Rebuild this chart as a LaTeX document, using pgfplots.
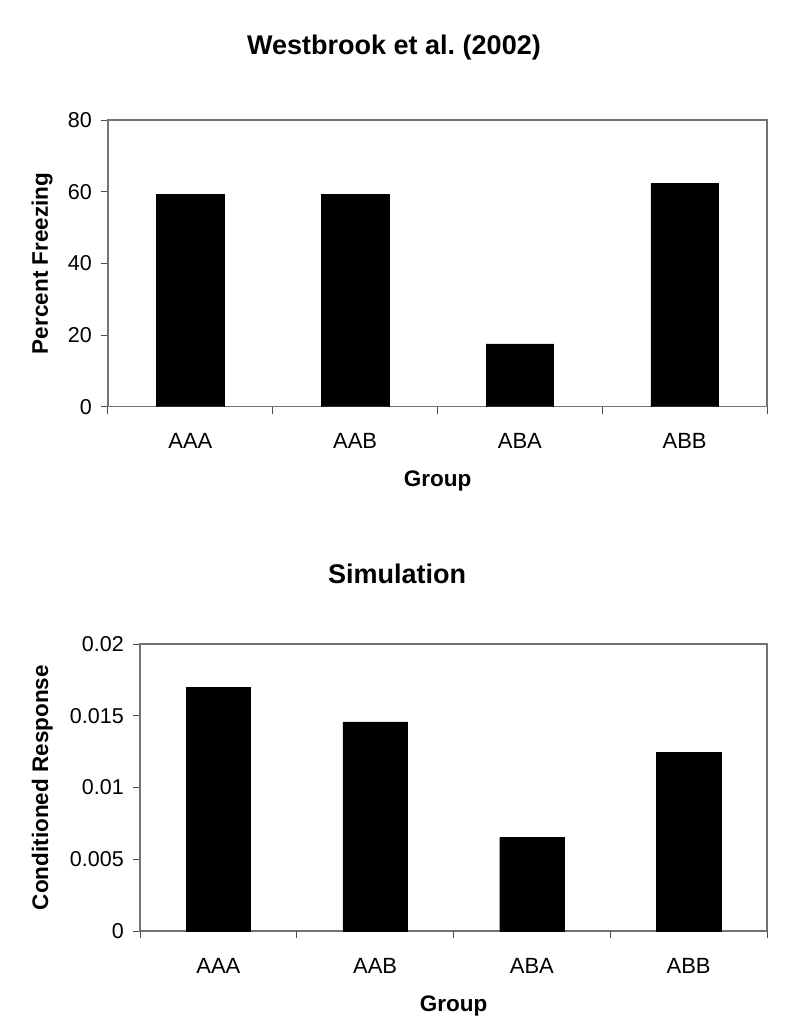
\documentclass[border=0pt]{standalone}
\usepackage{pgfplots}
\pgfplotsset{compat=1.18}
\usepackage{fontspec}
\setmainfont{Liberation Sans}
\begin{document}
\begin{tikzpicture}
\path[use as bounding box] (0pt,0pt) rectangle (800pt,-1033pt);
\pgfplotsset{
  myax/.style={
    scale only axis,
    axis line style={black!55, line width=1.2pt},
    xmin=-0.5, xmax=3.5, ymin=0,
    xtick={0,1,2,3},
    xticklabels={AAA,AAB,ABA,ABB},
    major x tick style={draw=none},
    extra x ticks={-0.5,0.5,1.5,2.5,3.5},
    extra x tick labels={},
    extra x tick style={tick align=outside, major tick length=7pt, major x tick style={draw=black!70, line width=1pt}},
    ytick align=outside,
    ytick pos=left,
    xtick pos=bottom,
    major tick length=7pt,
    y tick style={draw=black!70, line width=1pt},
    tick label style={font=\fontsize{21.5}{25}\selectfont},
    /pgf/number format/assume math mode=true,
    xticklabel style={anchor=base, yshift=-42pt, font=\fontsize{22}{26}\selectfont},
    yticklabel style={inner sep=0pt, xshift=-9pt},
  }
}
% titles
\node[font=\fontsize{27}{32}\selectfont\bfseries] at (394pt,-48pt) {Westbrook et al.\ (2002)};
\node[font=\fontsize{27}{32}\selectfont\bfseries] at (397pt,-574pt) {Simulation};

\begin{axis}[myax,
  at={(108pt,-406.7pt)}, anchor=south west,
  width=659pt, height=286.7pt,
  ymax=80, ytick={0,20,40,60,80},
  xlabel={Group}, ylabel={Percent Freezing},
  xlabel style={at={(axis description cs:0.5,-0.258)}, anchor=center, font=\fontsize{22.5}{26}\selectfont\bfseries},
  ylabel style={at={(axis description cs:-0.100,0.5)}, anchor=center, font=\fontsize{22.5}{26}\selectfont\bfseries},
]
\addplot[ybar, bar width=0.41, fill=black, draw=black] coordinates {
  (0,59.2) (1,59.2) (2,17.5) (3,62.3)
};
\end{axis}

\begin{axis}[myax,
  at={(140pt,-931pt)}, anchor=south west,
  width=627pt, height=287pt,
  ymax=0.02, ytick={0,0.005,0.01,0.015,0.02},
  yticklabels={0,0.005,0.01,0.015,0.02},
  scaled y ticks=false,
  xlabel={Group}, ylabel={Conditioned Response},
  xlabel style={at={(axis description cs:0.5,-0.261)}, anchor=center, font=\fontsize{22.5}{26}\selectfont\bfseries},
  ylabel style={at={(axis description cs:-0.156,0.5)}, anchor=center, font=\fontsize{22.5}{26}\selectfont\bfseries},
]
\addplot[ybar, bar width=0.41, fill=black, draw=black] coordinates {
  (0,0.0170) (1,0.01458) (2,0.00653) (3,0.01244)
};
\end{axis}
\end{tikzpicture}
\end{document}
